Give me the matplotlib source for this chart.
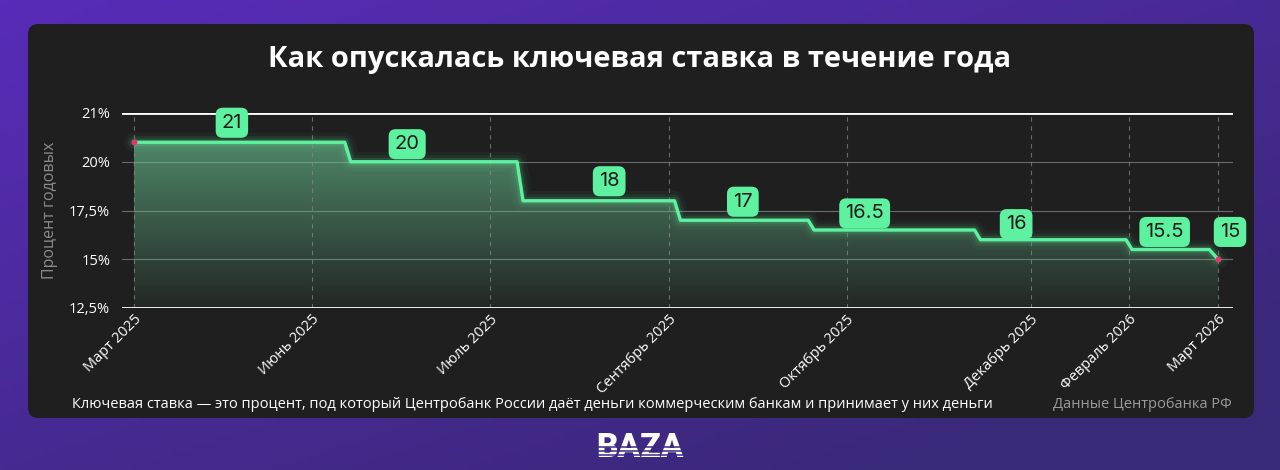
import numpy as np
import matplotlib.pyplot as plt
from matplotlib.patches import FancyBboxPatch, Polygon

plt.rcParams['font.family'] = ['Open Sans', 'DejaVu Sans']

# key rate, % (x = days since the first point)
days = [0, 71, 73, 129, 131, 182, 184, 227, 229, 283, 285, 334, 336, 362, 365]
rates = [21, 21, 20, 20, 18, 18, 17, 17, 16.5, 16.5, 16, 16, 15.5, 15.5, 15]

step_labels = ['21', '20', '18', '17', '16.5', '16', '15.5', '15']
label_days = [33, 92, 160, 205, 246, 297, 347, 369]
label_rates = [22.0, 20.9, 19.0, 17.95, 17.35, 16.8, 16.4, 16.4]

tick_days = [0, 60, 120, 180, 240, 302, 335, 365]
tick_labels = ['Март 2025', 'Июнь 2025', 'Июль 2025', 'Сентябрь 2025',
               'Октябрь 2025', 'Декабрь 2025', 'Февраль 2026', 'Март 2026']
y_ticks = [12.5, 15, 17.5, 20, 22.5]
y_labels = ['12,5%', '15%', '17,5%', '20%', '21%']

GREEN = '#5ef2a0'
CARD = '#1f1f1f'
W, H = 1280, 470

fig = plt.figure(figsize=(12.8, 4.7), dpi=100)

# purple background + dark card
bg = fig.add_axes([0, 0, 1, 1], zorder=-10)
bg.axis('off')
gx, gy = np.meshgrid(np.linspace(0, 1, 200), np.linspace(0, 1, 100))
t = np.clip(0.55 * gx + 0.6 * gy, 0, 1)[..., None]
c1 = np.array([0x58, 0x2c, 0xb8]) / 255
c2 = np.array([0x3a, 0x28, 0x78]) / 255
bg.imshow(c1 * (1 - t) + c2 * t, extent=[0, 1, 0, 1], aspect='auto', origin='upper')
bg.add_patch(FancyBboxPatch((28 / W, 52 / H), 1226 / W, 394 / H,
                            boxstyle='round,pad=0,rounding_size=0.008',
                            transform=bg.transAxes, facecolor=CARD, edgecolor='none',
                            mutation_aspect=W / H))
bg.set_xlim(0, 1)
bg.set_ylim(0, 1)

# logo with stripes
bg.text(0.5, 1 - 457 / H, 'BAZA', ha='center', va='baseline', color='white',
        fontsize=24, fontweight='black', family=['Roboto', 'DejaVu Sans'], zorder=4)
for yy in [447, 451, 455]:
    bg.plot([0.455, 0.545], [1 - yy / H] * 2, color='#3b2a82', lw=1.1, zorder=5)

fig.text(0.5, 1 - 59 / H, 'Как опускалась ключевая ставка в течение года',
         ha='center', va='center', color='white', fontsize=21, fontweight='bold')
fig.text(72 / W, 1 - 404 / H,
         'Ключевая ставка — это процент, под который Центробанк России даёт деньги '
         'коммерческим банкам и принимает у них деньги',
         ha='left', va='center', color='white', fontsize=10.5)
fig.text(1232 / W, 1 - 404 / H, 'Данные Центробанка РФ', ha='right', va='center',
         color='#9a9a9a', fontsize=10.5)

ax = fig.add_axes([122 / W, 1 - 308 / H, 1111 / W, 195 / H])
ax.set_facecolor('none')
ax.set_xlim(-4, 370)
ax.set_ylim(12.5, 22.5)

for y in y_ticks[1:-1]:
    ax.axhline(y, color='#8a8a8a', lw=0.8, alpha=0.7, zorder=1)
for y in [y_ticks[0], y_ticks[-1]]:
    ax.axhline(y, color='white', lw=2, zorder=6)
for x in tick_days:
    ax.axvline(x, color='#8a8a8a', lw=0.8, ls=(0, (4, 4)), alpha=0.7, zorder=4)

# gradient fill under the line
verts = list(zip(days, rates)) + [(days[-1], 12.5), (days[0], 12.5)]
poly = Polygon(verts, closed=True, facecolor='none', edgecolor='none')
ax.add_patch(poly)
n = 256
grad = np.zeros((n, 1, 4))
grad[..., 0], grad[..., 1], grad[..., 2] = 0.42, 0.78, 0.58
grad[..., 3] = np.linspace(0.62, 0.05, n)[:, None]
im = ax.imshow(grad, extent=[days[0], days[-1], 12.5, 21], aspect='auto',
               origin='upper', zorder=2)
im.set_clip_path(poly)

# glowing line
for lw, a in [(14, 0.04), (9, 0.07), (5.5, 0.13)]:
    ax.plot(days, rates, color=GREEN, lw=lw, alpha=a, solid_capstyle='round', zorder=3)
ax.plot(days, rates, color=GREEN, lw=2.4, zorder=5)
ax.scatter([days[0], days[-1]], [rates[0], rates[-1]], s=10, color='#e8346e', zorder=7)

for lab, x, y in zip(step_labels, label_days, label_rates):
    ax.text(x, y, lab, ha='center', va='center', fontsize=14.5, color='#1b1b1b',
            family=['Inter', 'DejaVu Sans'], zorder=8, clip_on=False,
            bbox=dict(boxstyle='round,pad=0.3,rounding_size=0.35', fc=GREEN, ec='none'))

ax.set_yticks(y_ticks)
ax.set_yticklabels(y_labels)
ax.set_xticks(tick_days)
ax.set_xticklabels(tick_labels, rotation=45, ha='right', va='top',
                   rotation_mode='anchor')
ax.tick_params(axis='y', length=0, pad=8.5, labelcolor='white', labelsize=10.5)
ax.tick_params(axis='x', length=0, pad=3, labelcolor='white', labelsize=10.5)
for s in ax.spines.values():
    s.set_visible(False)
ax.set_ylabel('Процент годовых', color='#8c8c8c', fontsize=11.5)
ax.yaxis.set_label_coords(-0.058, 0.5)

fig.savefig('out.png', dpi=100, facecolor=fig.get_facecolor())
